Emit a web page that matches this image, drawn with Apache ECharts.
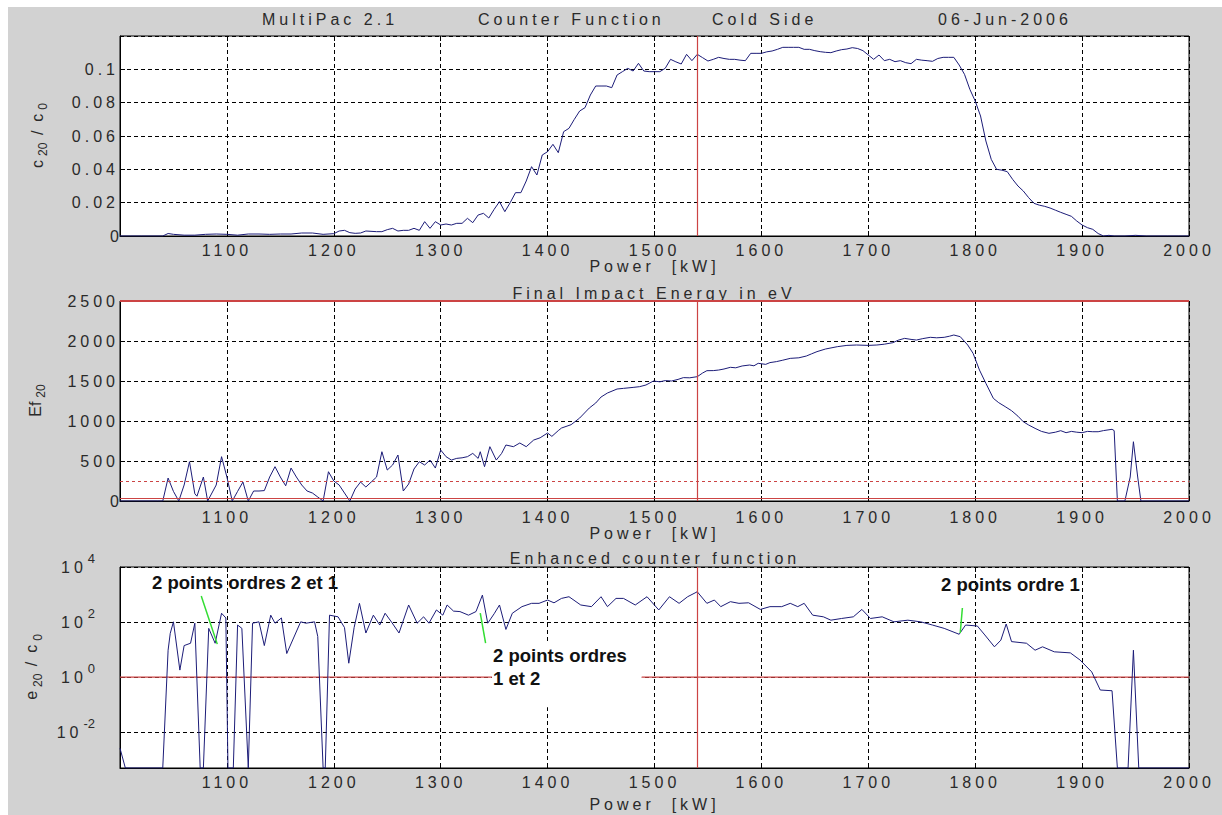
<!DOCTYPE html>
<html><head><meta charset="utf-8">
<script src="https://cdn.jsdelivr.net/npm/echarts@6/dist/echarts.min.js"></script>
<style>
html,body{margin:0;padding:0;background:#ffffff;width:1222px;height:815px;overflow:hidden;}
#chart{position:absolute;left:8px;top:7px;width:1214px;height:808px;}
#chart text{white-space:pre;}
</style></head><body><div id="chart"></div>
<script>
// ---------- DATA ----------
const c20Power = [1000,1010,1020,1030,1040,1045,1050,1060,1070,1080,1090,1100,1110,1120,1130,1140,1150,1160,1170,1180,1190,1200,1205,1210,1215,1220,1225,1230,1240,1245,1250,1255,1260,1265,1270,1275,1280,1285,1290,1295,
1300,1305,1310,1315,1320,1325,1330,1335,1340,1345,1350,1355,1360,1365,1370,1375,1380,1385,1390,1395,
1400,1405,1410,1415,1420,1425,1430,1435,1440,1445,1450,1455,1460,1465,1470,1475,1480,1485,1490,1495,
1500,1505,1510,1515,1520,1525,1530,1535,1540,1545,1550,1555,1560,1565,1570,1575,1580,1585,1590,1595,
1600,1605,1610,1615,1620,1625,1630,1635,1640,1645,1650,1655,1660,1665,1670,1675,1680,1685,1690,1695,
1700,1705,1710,1715,1720,1725,1730,1735,1740,1745,1750,1755,1760,1765,1770,1775,1780,1785,1790,1795,
1800,1805,1810,1815,1820,1825,1830,1835,1840,1845,1850,1855,1860,1865,1870,1875,1880,1885,1890,1895,
1900,1905,1910,1915,1920,1925,1930,1940,1950,1960,1970,1980,1990,2000];
const c20Value = [0,0,0,0,0,0.0015,0.001,0.0005,0.0005,0.001,0.0012,0.001,0.0005,0.0012,0.0012,0.001,0.0012,0.0012,0.0018,0.0018,0.001,0.0014,0.003,0.0034,0.002,0.0016,0.0018,0.003,0.0026,0.0026,0.0038,0.0046,0.003,0.0034,0.0034,0.0046,0.0034,0.0086,0.0046,0.0086,
0.0066,0.0072,0.0066,0.0076,0.0076,0.0106,0.008,0.0126,0.0136,0.0108,0.016,0.0206,0.0146,0.02,0.026,0.026,0.033,0.0416,0.0366,0.0486,
0.0506,0.055,0.05,0.0626,0.0646,0.07,0.075,0.077,0.0846,0.09,0.09,0.09,0.089,0.0966,0.0986,0.1006,0.099,0.1036,0.099,0.0986,
0.0986,0.0986,0.1006,0.106,0.1045,0.1032,0.109,0.1052,0.109,0.107,0.105,0.106,0.1072,0.1065,0.106,0.106,0.1055,0.1052,0.1096,0.1096,
0.1096,0.1105,0.111,0.112,0.1132,0.1132,0.1132,0.1132,0.112,0.112,0.1112,0.1106,0.1102,0.11,0.111,0.1118,0.1122,0.113,0.1125,0.1112,
0.1086,0.106,0.1086,0.1052,0.106,0.1046,0.1052,0.104,0.1034,0.106,0.1055,0.1052,0.1048,0.1065,0.1072,0.1072,0.1072,0.1026,0.097,0.088,
0.081,0.072,0.057,0.046,0.04,0.0395,0.0386,0.034,0.03,0.027,0.023,0.0196,0.0185,0.0178,0.0168,0.0155,0.0142,0.013,0.0118,0.009,
0.0066,0.005,0.004,0.0015,0,0.0004,0,0,0.0004,0,0,0,0,0];

const efPower = [1000,1035,1040,1045,1050,1055,1060,1065,1070,1072,1078,1082,1090,1095,1100,1105,1110,1115,1120,1125,1130,1135,1140,1145,1150,1155,1160,1165,1170,1175,1180,1185,1190,1195,1200,1205,1210,1215,1220,1225,1230,1235,1240,1245,1250,1255,1260,1265,1270,1275,1280,1285,1290,1295,
1300,1305,1310,1315,1320,1325,1330,1335,1337,1341,1346,1352,1357,1361,1368,1374,1380,1387,1393,1400,1404,1410,1413,1422,1430,1439,1445,1450,1456,1465,1471,1480,1486,1492,1499,
1505,1510,1516,1522,1527,1533,1540,1545,1549,1555,1560,1565,1571,1576,1582,1589,1593,1597,1604,1608,1614,1620,1627,1635,1642,1647,1652,1660,1671,1680,1689,1700,1708,1715,1723,1728,1734,1740,1745,1751,1758,1764,1771,1776,1780,1786,1793,1798,
1804,1810,1817,1822,1828,1834,1840,1845,1850,1856,1862,1869,1875,1880,1885,1890,1895,1900,1905,1910,1915,1920,1928,1930,1933,1940,1945,1948,1952,1955,2000];
const efValue = [0,0,0,287,120,0,200,491,90,60,300,0,200,554,300,0,120,237,0,125,125,130,300,429,300,190,412,300,200,125,100,50,0,366,250,200,100,0,150,237,175,237,300,616,387,450,575,125,212,400,491,450,512,412,
637,554,512,533,540,554,595,533,616,429,679,512,595,700,679,725,679,762,790,850,808,880,912,954,1037,1162,1225,1300,1350,1400,1408,1420,1429,1450,1500,
1490,1505,1500,1520,1542,1540,1554,1600,1629,1630,1637,1650,1671,1665,1688,1700,1690,1721,1708,1730,1742,1760,1783,1790,1812,1840,1867,1900,1929,1945,1950,1945,1950,1960,1979,2010,2033,2020,2012,2030,2046,2040,2046,2060,2075,2054,1950,1846,
1637,1471,1283,1229,1180,1129,1060,991,950,908,870,846,860,879,854,870,860,854,870,866,866,880,896,880,0,0,300,741,300,0,0];

const e20Power = [1000,1005,1040,1045,1047,1050,1056,1060,1066,1070,1075,1078,1083,1089,1095,1099,1101,1106,1110,1114,1120,1124,1130,1135,1141,1145,1151,1156,1169,1174,1182,1185,1190,1192,1196,1204,1210,1214,1219,1224,1230,1237,1243,1248,1254,1261,1270,1278,1284,1289,1296,
1302,1306,1312,1318,1326,1333,1339,1344,1350,1355,1361,1367,1376,1385,1392,1400,1406,1413,1420,1431,1441,1450,1456,1464,1471,1482,1493,1504,1514,1523,1531,1540,1549,1556,1562,1571,1579,1588,1599,
1608,1619,1627,1634,1640,1648,1658,1665,1675,1686,1694,1702,1713,1724,1737,1749,1760,1771,1785,1791,1802,1809,1818,1824,1829,1834,1848,1856,1863,1874,1889,1898,1909,1917,1928,1933,1943,1948,1953,2000];
const e20Value = [0.0026,0.0005,0.0005,9.5,39,102,1.8,14,17,91,0.0005,0.0005,59,17,209,141,0.0005,0.0005,78,59,0.0005,91,102,14,178,91,141,7.2,102,91,102,30,0.0005,0.0005,178,155,63,3.2,63,479,40,178,78,209,100,40,417,91,155,91,275,
178,417,250,240,178,240,955,91,200,417,54,209,363,479,479,631,500,724,832,417,363,832,363,724,724,417,832,275,832,479,832,1259,479,631,363,550,479,501,288,
363,363,479,363,479,178,155,117,135,155,288,135,155,102,117,102,78,59,36,78,72,34,12.6,22,85,19.5,17,9.5,12.6,8.3,7.6,4.2,1.55,0.34,0.32,0.0005,0.0005,9.5,0.0005,0.0005];

const logTickValues = [0.01, 1, 100, 10000];
const markerPower = 1540;
const powerRange = [1000, 2000];
const e20RefLevel = 1;
const efRefSolid = [30, 2500];
const efRefDashed = [250];
const annotations = [
  {text:'2 points ordres 2 et 1', at:[1030, 2630], from:[1076, 881], to:[1091, 15.8]},
  {text:'2 points ordres\n1 et 2', at:[1349, 2.41], from:[1337, 212], to:[1342, 17.2]},
  {text:'2 points ordre 1', at:[1768, 2240], from:[1788, 324], to:[1786, 40]}
];
const annotBox = [[1348, 17.2],[1488, 0.081]];

// ---------- STYLE ----------
const FONT = 'Liberation Sans, LSX';
const FONTN = 'Liberation Sans, NOSP';
const TXT = '#2a2a2a';
const BLUE = '#1c1c78';
const RED = '#cc4444';
const zip = (a,b) => a.map((p,i)=>[p,b[i]]);
const plain = v => String(v);

const grids = [
  {left:112, top:29, width:1069, height:200},
  {left:112, top:294, width:1069, height:200},
  {left:112, top:560, width:1069, height:201}
];
function lblStyle(){ return {fontFamily:FONT, fontSize:16, color:TXT}; }

function primaryX(i, gap, margin){
  return {type:'value', gridIndex:i, min:1000, max:2000, interval:100, position:'bottom',
    axisLine:{show:true, onZero:false, lineStyle:{color:'#000', width:1}},
    axisTick:{show:true, inside:true, length:5, lineStyle:{color:'#000'}},
    axisLabel:Object.assign({showMinLabel:false, margin:margin, formatter:plain}, lblStyle()),
    splitLine:{show:true, lineStyle:{color:'#000', type:[4,3], width:1}},
    name:'Power  [kW]', nameLocation:'middle', nameGap:gap, nameTextStyle:lblStyle()};
}
function mirrorX(i){
  return {type:'value', gridIndex:i, min:1000, max:2000, interval:100, position:'top',
    axisLine:{show:false, onZero:false}, axisTick:{show:true, inside:true, length:5, lineStyle:{color:'#000'}},
    axisLabel:{show:false}, splitLine:{show:false}};
}
const subRich = {
  m:{fontFamily:FONTN, fontSize:16, color:TXT, lineHeight:18, padding:[0,2,0,2]},
  s:{fontFamily:FONTN, fontSize:12, color:TXT, lineHeight:13, padding:[12,1,0,2]}
};
function linY(i, min, max, interval, name, gap){
  return {type:'value', gridIndex:i, min:min, max:max, interval:interval, position:'left',
    axisLine:{show:true, lineStyle:{color:'#000'}},
    axisTick:{show:true, inside:true, length:5, lineStyle:{color:'#000'}},
    axisLabel:Object.assign({margin:1, formatter:plain}, lblStyle()),
    splitLine:{show:true, lineStyle:{color:'#000', type:[4,3], width:1}},
    name:name, nameLocation:'middle', nameRotate:90, nameGap:gap,
    nameTextStyle:{rich:subRich}};
}
function mirrorY(i, base){
  const o = {type:base.type, gridIndex:i, min:base.min, max:base.max, position:'right',
    axisLine:{show:false}, axisTick:{show:true, inside:true, length:5, lineStyle:{color:'#000'}},
    axisLabel:{show:false}, splitLine:{show:false}};
  if (base.interval) o.interval = base.interval;
  if (base.type === 'log') o.axisTick.customValues = logTickValues;
  return o;
}
const y0 = linY(0, 0, 0.12, 0.02, '{m|c}{s|20}{m| /  c}{s|0}', 74);
y0.axisLabel.showMaxLabel = false;
const y1 = linY(1, 0, 2500, 500, '{m|Ef}{s|20}', 76);
const y2 = {type:'log', gridIndex:2, min:0.0005, max:10000, position:'left',
  axisLine:{show:true, lineStyle:{color:'#000'}},
  axisTick:{show:true, inside:true, length:5, customValues:logTickValues, lineStyle:{color:'#000'}},
  axisLabel:{customValues:logTickValues, margin:25,
    formatter:(v)=>'{b|1}{b|0}{e|' + Math.round(Math.log10(v)) + '}',
    rich:{b:{fontFamily:FONTN, fontSize:16, color:TXT, lineHeight:18, padding:[0,2,0,2]},
          e:{fontFamily:FONTN, fontSize:13, color:TXT, lineHeight:14, padding:[0,0,18,3]}}},
  splitLine:{show:true, lineStyle:{color:'#000', type:[4,3], width:1}},
  name:'{m|e}{s|20}{m| /  c}{s|0}', nameLocation:'middle', nameRotate:90, nameGap:71,
  nameTextStyle:{rich:subRich}};

const redV = {xAxis:markerPower, lineStyle:{color:RED, width:1.2, type:'solid', opacity:1}};
function ml(data, extra){
  return Object.assign({symbol:['none','none'], silent:true, label:{show:false}, animation:false,
    lineStyle:{color:RED, width:1.2, type:'solid', opacity:1}, emphasis:{disabled:true}, data:data}, extra||{});
}

const titleFont = {fontFamily:FONT, fontSize:16, fill:TXT};
const graphics = [
  {type:'text', x:254, y:12, style:Object.assign({text:'MultiPac 2.1', align:'left', verticalAlign:'middle'}, titleFont)},
  {type:'text', x:470, y:12, style:Object.assign({text:'Counter Function', align:'left', verticalAlign:'middle'}, titleFont)},
  {type:'text', x:704, y:12, style:Object.assign({text:'Cold Side', align:'left', verticalAlign:'middle'}, titleFont)},
  {type:'text', x:930, y:12, style:Object.assign({text:'06-Jun-2006', align:'left', verticalAlign:'middle'}, titleFont)},
  {type:'text', x:646, y:286, style:Object.assign({text:'Final Impact Energy in eV', align:'center', verticalAlign:'middle'}, titleFont)},
  {type:'text', x:647, y:551, style:Object.assign({text:'Enhanced counter function', align:'center', verticalAlign:'middle'}, titleFont)}
];

const option = {
  animation:false,
  backgroundColor:'#d2d2d2',
  grid: grids.map(g => Object.assign({show:true, backgroundColor:'#ffffff', borderColor:'#000', borderWidth:1, containLabel:false}, g)),
  xAxis:[primaryX(0,19,6), primaryX(1,19,8), primaryX(2,28,6), mirrorX(0), mirrorX(1), mirrorX(2)],
  yAxis:[y0, y1, y2, mirrorY(0,y0), mirrorY(1,y1), mirrorY(2,y2)],
  graphic: graphics,
  series:[
    {type:'line', xAxisIndex:0, yAxisIndex:0, data:zip(c20Power,c20Value), symbol:'none',
      lineStyle:{color:BLUE, width:1}, itemStyle:{color:BLUE}, markLine:ml([redV])},
    {type:'line', xAxisIndex:1, yAxisIndex:1, data:zip(efPower,efValue), symbol:'none',
      lineStyle:{color:BLUE, width:1}, itemStyle:{color:BLUE},
      markLine:ml([redV]
        .concat(efRefSolid.map(v=>({yAxis:v, lineStyle:{color:RED, width: v===2500?2:1.2, type:'solid', opacity:1}})))
        .concat(efRefDashed.map(v=>({yAxis:v, lineStyle:{color:RED, width:1, type:[3,3], opacity:1}}))))},
    {type:'line', xAxisIndex:2, yAxisIndex:2, z:1, data:powerRange.map(p=>[p, e20RefLevel]), symbol:'none',
      lineStyle:{color:RED, width:1.2, type:'solid'}, itemStyle:{color:RED}, silent:true},
    {type:'line', xAxisIndex:2, yAxisIndex:2, data:zip(e20Power,e20Value), symbol:'none',
      lineStyle:{color:BLUE, width:1}, itemStyle:{color:BLUE},
      markLine:ml([redV])},
    {type:'line', xAxisIndex:2, yAxisIndex:2, data:[], symbol:'none',
      markArea:{silent:true, z:6, itemStyle:{color:'#ffffff', opacity:1, borderWidth:0}, label:{show:false},
        data:[[{coord:annotBox[0]},{coord:annotBox[1]}]]}},
    {type:'line', xAxisIndex:2, yAxisIndex:2, data:[], symbol:'none',
      markLine:ml(annotations.map(a=>[{coord:a.from},{coord:a.to}]),
        {z:7, lineStyle:{color:'#33dd33', width:1.5, type:'solid', opacity:1}}),
      markPoint:{z:8, silent:true, symbol:'rect', symbolSize:0, animation:false,
        data:annotations.map(a=>({name:a.text, coord:a.at})),
        label:{show:true, position:'right', distance:0, formatter:'{b}', fontFamily:FONTN, fontWeight:'bold',
          fontSize:18.5, lineHeight:23, color:'#111', align:'left', verticalAlign:'middle'}}}
  ]
};
const root = document.getElementById('chart');
const chart = echarts.init(root, null, {renderer:'svg'});
chart.setOption(option);
const noSpace = ['10', '20', ' /  c', '-2', 'Ef', '1', '0', '2', '4', 'c', 'e'];
function spaceText(){
  root.querySelectorAll('svg text').forEach(t => {
    const cs = getComputedStyle(t);
    const info = (cs.fontFamily || '') + ' ' + (t.getAttribute('style') || '');
    const bold = parseInt(cs.fontWeight, 10) >= 600 || info.indexOf('bold') >= 0;
    const txt = t.textContent;
    if (bold || info.indexOf('NOSP') >= 0 || noSpace.indexOf(txt) >= 0 || /points|et 2/.test(txt)) return;
    if (t.style.letterSpacing !== '4px') t.style.letterSpacing = '4px';
  });
}
spaceText();
new MutationObserver(spaceText).observe(root, {subtree:true, childList:true, attributes:true, characterData:true});
chart.on('finished', spaceText);
</script></body></html>
